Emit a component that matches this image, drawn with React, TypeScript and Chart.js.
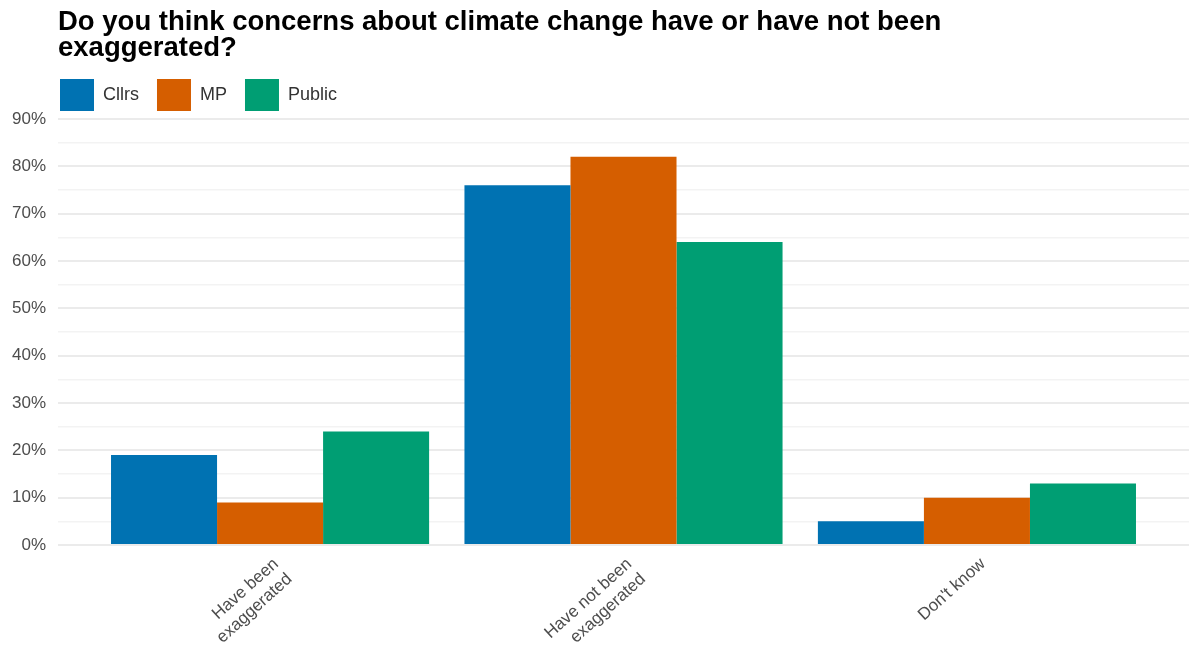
import React, { useEffect, useRef } from "react";
import { Chart, registerables } from "chart.js";

Chart.register(...registerables);

const categories: string[][] = [
  ["Have been", "exaggerated"],
  ["Have not been", "exaggerated"],
  ["Don't know"],
];
const seriesNames = ["Cllrs", "MP", "Public"];
const cllrsValues = [19, 76, 5];
const mpValues = [9, 82, 10];
const publicValues = [24, 64, 13];
const seriesColors = ["#0072B2", "#D55E00", "#009E73"];
const yMin = 0;
const yMax = 90;
const yStep = 5;
const titleLines = [
  "Do you think concerns about climate change have or have not been",
  "exaggerated?",
];

const FONT = "'Liberation Sans', Arial, sans-serif";

const legendShift = {
  id: "legendShift",
  afterLayout(chart: any) {
    const lg = chart.legend;
    if (lg) {
      lg.left -= 16;
      lg.right -= 16;
      lg.top += 2;
      lg.bottom += 2;
    }
  },
};

export default function App() {
  const ref = useRef<HTMLCanvasElement>(null);

  useEffect(() => {
    const seriesValues = [cllrsValues, mpValues, publicValues];
    const chart = new Chart(ref.current as HTMLCanvasElement, {
      type: "bar",
      data: {
        datasets: seriesNames.map((name, s) => ({
          label: name,
          data: categories.map((_, i) => ({ x: i + 1, y: seriesValues[s][i] })),
          backgroundColor: seriesColors[s],
          borderWidth: 0,
          categoryPercentage: 0.9,
          barPercentage: 1.0,
        })),
      },
      options: {
        responsive: false,
        animation: false,
        layout: { padding: 0 },
        plugins: {
          tooltip: { enabled: false },
          title: {
            display: true,
            text: titleLines,
            align: "start",
            fullSize: false,
            color: "#000000",
            font: { family: FONT, size: 27.5, weight: "bold", lineHeight: 0.945 },
            padding: { top: 9, bottom: -2 },
          },
          legend: {
            display: true,
            position: "top",
            align: "start",
            fullSize: false,
            labels: {
              boxWidth: 34,
              boxHeight: 32,
              padding: 18,
              color: "#333333",
              font: { family: FONT, size: 18 },
            },
          },
        },
        scales: {
          x: {
            type: "linear",
            min: 0.4,
            max: 3.6,
            offset: false,
            grid: { display: false, drawTicks: false },
            border: { display: false },
            afterBuildTicks: (scale: any) => {
              scale.ticks = categories.map((_, i) => ({ value: i + 1 }));
            },
            afterFit: (scale: any) => {
              scale.height = 106;
            },
            ticks: {
              autoSkip: false,
              minRotation: 42,
              maxRotation: 42,
              padding: 9,
              labelOffset: 6,
              color: "#4d4d4d",
              font: { family: FONT, size: 17 },
              callback: (value: any) => {
                const idx = Math.round(Number(value)) - 1;
                return categories[idx] ?? "";
              },
            },
          },
          y: {
            min: yMin,
            max: yMax,
            grid: {
              drawTicks: false,
              color: (ctx: any) =>
                ctx.tick && ctx.tick.value % 10 === 0 ? "#ebebeb" : "#f3f3f3",
              lineWidth: (ctx: any) =>
                ctx.tick && ctx.tick.value % 10 === 0 ? 2 : 1.5,
            },
            border: { display: false },
            afterFit: (scale: any) => {
              scale.width = 58;
            },
            ticks: {
              stepSize: yStep,
              padding: 12,
              color: "#4d4d4d",
              font: { family: FONT, size: 17 },
              callback: (value: any) =>
                Number(value) % 10 === 0 ? `${value}%` : "",
            },
          },
        },
      },
      plugins: [legendShift],
    });
    return () => chart.destroy();
  }, []);

  return (
    <div style={{ position: "fixed", left: 0, top: 0, width: 1189, height: 651, background: "#ffffff" }}>
      <canvas ref={ref} width={1189} height={651} />
    </div>
  );
}
